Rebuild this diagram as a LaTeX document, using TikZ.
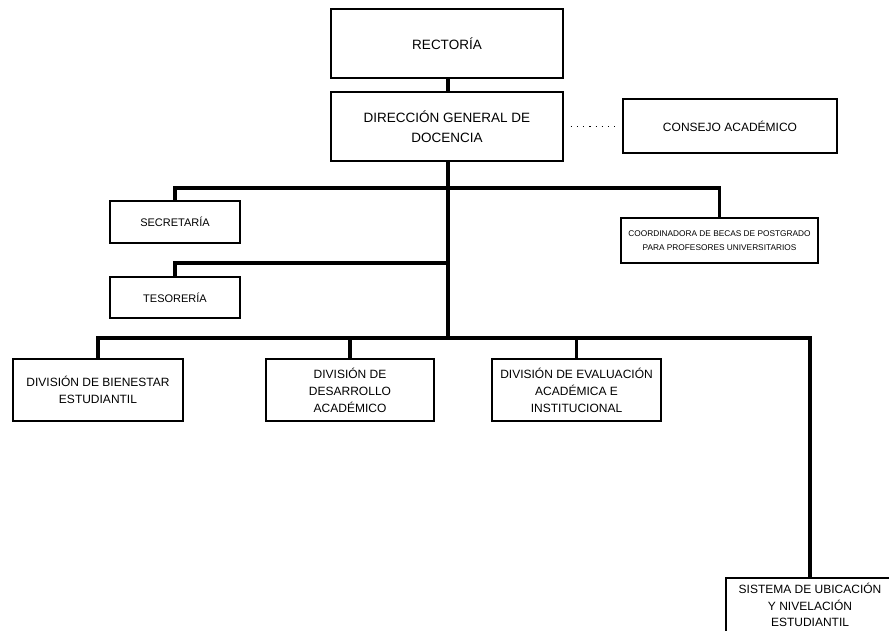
\documentclass[tikz,border=0pt]{standalone}
\usepackage{fontspec}
\setmainfont{Liberation Sans}
\usepackage{tikz}
\usetikzlibrary{positioning,calc}

\begin{document}
\begin{tikzpicture}[x=1pt, y=-1pt,
        every node/.style={draw, line width=1.4pt, align=center, inner sep=0pt},
        link/.style={line width=3.4pt}]
      \tikzstyle{big} = [font=\fontsize{13.5}{20}\selectfont]
      \tikzstyle{mid} = [font=\fontsize{12}{17}\selectfont]
      \tikzstyle{small} = [font=\fontsize{11}{13}\selectfont]
      \tikzstyle{tiny} = [font=\fontsize{8.3}{14}\selectfont]
      \useasboundingbox (0,0) rectangle (889,630);
      \node (RECT) [big, minimum width=232, minimum height=69] at (447,43.5) {RECTORÍA};
      \node (DGD) [big, minimum width=232, minimum height=69] at (447,126.5) {DIRECCIÓN GENERAL DE\\DOCENCIA};
      \node (CONS) [mid, minimum width=214, minimum height=54] at (730,126) {CONSEJO ACADÉMICO};
      \node (SEC) [small, minimum width=130, minimum height=42] at (175,222) {SECRETARÍA};
      \node (TES) [small, minimum width=130, minimum height=41] at (175,297.5) {TESORERÍA};
      \node (COORD) [tiny, minimum width=197, minimum height=45] at (719.5,240.5) {COORDINADORA DE BECAS DE POSTGRADO\\PARA PROFESORES UNIVERSITARIOS};
      \node (DIV1) [mid, minimum width=170, minimum height=62] at (98,390) {DIVISIÓN DE BIENESTAR\\ESTUDIANTIL};
      \node (DIV2) [mid, minimum width=168, minimum height=62] at (350,390) {DIVISIÓN DE\\DESARROLLO\\ACADÉMICO};
      \node (DIV3) [mid, minimum width=169, minimum height=62] at (576.5,390) {DIVISIÓN DE EVALUACIÓN\\ACADÉMICA E\\INSTITUCIONAL};
      \node (SIST) [mid, font=\fontsize{12}{16.5}\selectfont, minimum width=168, minimum height=54] at (810,605) {SISTEMA DE UBICACIÓN\\Y NIVELACIÓN\\ESTUDIANTIL};
      \coordinate (b1) at (448,188);
      \coordinate (b2) at (448,263);
      \coordinate (b3) at (448,338);
      \draw[link] (RECT.south -| b1) -- (DGD.north -| b1);
      \draw[link] (DGD.south -| b1) -- (b3);
      \draw[link] (SEC.north) |- (b1) -| (COORD.north);
      \draw[link] (TES.north) |- (b2);
      \draw[link] (DIV1.north) |- (b3) -| (SIST.north);
      \draw[link] (DIV2.north) -- (DIV2.north |- b3);
      \draw[link] (DIV3.north) -- (DIV3.north |- b3);
      \draw[line width=1.2pt, dash pattern=on 1.2pt off 5pt, shorten <=7pt, shorten >=8pt]
        (DGD.east) -- (CONS.west |- DGD.east);
    \end{tikzpicture}
\end{document}
